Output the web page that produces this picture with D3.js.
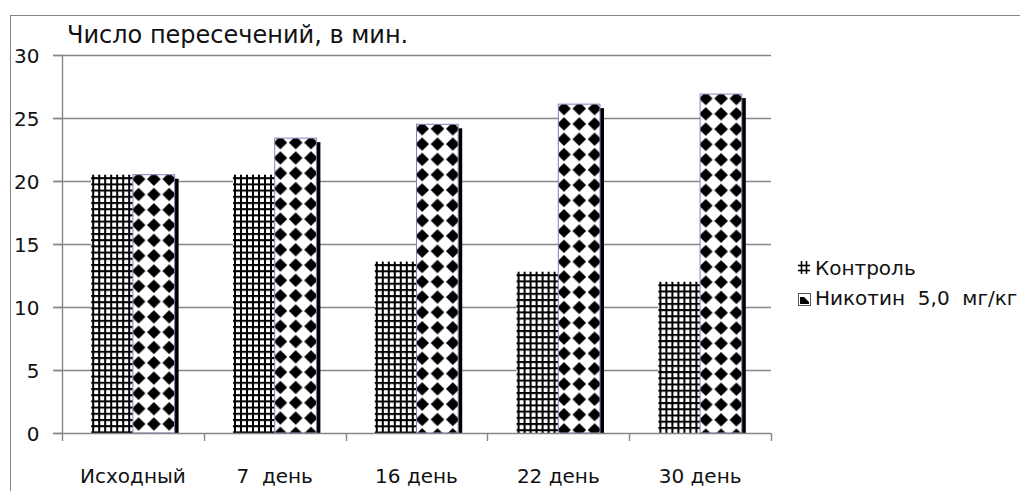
<!DOCTYPE html>
<html>
<head>
<meta charset="utf-8">
<script src="https://cdn.jsdelivr.net/npm/d3@7"></script>
<style>
  html, body { margin: 0; padding: 0; background: #fff; }
  svg { display: block; font-family: "DejaVu Sans", Verdana, sans-serif; }
</style>
</head>
<body>
<svg id="chart" width="1020" height="491"></svg>
<script>
// Values
const categories = ["Исходный", "7  день", "16 день", "22 день", "30 день"];
const seriesNames = ["Контроль", "Никотин  5,0  мг/кг"];
const control = [20.5, 20.5, 13.6, 12.8, 12.0];
const nicotine = [20.5, 23.4, 24.5, 26.1, 26.9];
const yTicks = [0, 5, 10, 15, 20, 25, 30];
const title = "Число пересечений, в мин.";

const svg = d3.select("#chart");
const W = 1020, H = 491;
const plot = { left: 62, right: 771, top: 55, bottom: 433 };
const gray = "#868686";

const y = d3.scaleLinear().domain([0, 30]).range([plot.bottom, plot.top]);
const x = d3.scaleBand().domain(categories).range([plot.left, plot.right]).paddingInner(0).paddingOuter(0);
const xs = d3.scaleBand().domain(["c", "n"]).range([0, x.bandwidth()]).paddingInner(0).paddingOuter(0.7);

const defs = svg.append("defs");

// chart frame
svg.append("rect")
  .attr("x", 10.5).attr("y", 15.5)
  .attr("width", W + 20).attr("height", H + 20)
  .attr("fill", "#fff").attr("stroke", gray).attr("stroke-width", 1);

// gridlines
svg.append("g")
  .selectAll("line")
  .data(yTicks.filter(t => t > 0))
  .join("line")
  .attr("x1", plot.left - 9).attr("x2", plot.right)
  .attr("y1", d => Math.round(y(d)) + 0.5).attr("y2", d => Math.round(y(d)) + 0.5)
  .attr("stroke", gray).attr("stroke-width", 1.4);

// patterns, one per bar so the texture starts at each bar's corner
function gridPattern(id, x0, y0) {
  const p = defs.append("pattern").attr("id", id)
    .attr("patternUnits", "userSpaceOnUse")
    .attr("x", x0 + 1).attr("y", y0 + 2.5)
    .attr("width", 6).attr("height", 6.2);
  p.append("rect").attr("width", 6).attr("height", 6.2).attr("fill", "#fff");
  p.append("rect").attr("x", 0).attr("y", 0).attr("width", 2).attr("height", 6.2).attr("fill", "#000");
  p.append("rect").attr("x", 0).attr("y", 0).attr("width", 6).attr("height", 2).attr("fill", "#000");
}
function diamondPattern(id, x0, y0) {
  const s = 15.3, r = 6.8;
  const p = defs.append("pattern").attr("id", id)
    .attr("patternUnits", "userSpaceOnUse")
    .attr("x", x0 + 5.7 - s / 2).attr("y", y0 + 4.5 - s / 2)
    .attr("width", s).attr("height", s);
  p.append("rect").attr("width", s).attr("height", s).attr("fill", "#fff");
  const c = s / 2;
  p.append("path")
    .attr("d", `M${c},${c - r}L${c + r},${c}L${c},${c + r}L${c - r},${c}Z`)
    .attr("fill", "#000");
}

const bars = svg.append("g");
categories.forEach((cat, i) => {
  const bx = x(cat);
  // control bar
  const cx0 = bx + xs("c"), cy0 = y(control[i]);
  gridPattern("pc" + i, cx0, cy0);
  bars.append("rect")
    .attr("x", cx0).attr("y", cy0)
    .attr("width", xs.bandwidth()).attr("height", y(0) - cy0)
    .attr("fill", `url(#pc${i})`);

  // nicotine bar with drop shadow
  const nx0 = bx + xs("n"), ny0 = y(nicotine[i]);
  diamondPattern("pn" + i, nx0, ny0);
  bars.append("rect")
    .attr("x", nx0 + 4).attr("y", ny0 + 4)
    .attr("width", xs.bandwidth()).attr("height", y(0) - ny0 - 4)
    .attr("fill", "#000");
  bars.append("rect")
    .attr("x", nx0).attr("y", ny0)
    .attr("width", xs.bandwidth()).attr("height", y(0) - ny0)
    .attr("fill", `url(#pn${i})`)
    .attr("stroke", "#8080b8").attr("stroke-width", 1);
});

// y axis
const yAxis = svg.append("g")
  .attr("transform", `translate(${plot.left + 0.5},0)`)
  .call(d3.axisLeft(y).tickValues(yTicks).tickSize(9).tickPadding(14).tickFormat(d3.format("d")));
yAxis.select(".domain").attr("stroke", gray).attr("stroke-width", 1.4)
  .attr("d", `M0,${plot.top}V${plot.bottom}`);
yAxis.selectAll(".tick line").attr("stroke", gray).attr("stroke-width", 1.4);
yAxis.selectAll(".tick text")
  .attr("font-family", "DejaVu Sans, Verdana, sans-serif")
  .attr("font-size", 20).attr("fill", "#111").attr("dy", "0.36em");

// x axis
const xAxis = svg.append("g");
xAxis.append("line")
  .attr("x1", plot.left - 9).attr("x2", plot.right)
  .attr("y1", plot.bottom + 0.5).attr("y2", plot.bottom + 0.5)
  .attr("stroke", gray).attr("stroke-width", 1.4);
const bounds = categories.map(c => x(c)).concat([x(categories[categories.length - 1]) + x.bandwidth()]);
xAxis.selectAll("line.tick")
  .data(bounds)
  .join("line").attr("class", "tick")
  .attr("x1", d => Math.round(d) + 0.5).attr("x2", d => Math.round(d) + 0.5)
  .attr("y1", plot.bottom).attr("y2", plot.bottom + 8)
  .attr("stroke", gray).attr("stroke-width", 1.4);
xAxis.selectAll("text")
  .data(categories)
  .join("text")
  .attr("x", d => x(d) + x.bandwidth() / 2)
  .attr("y", 483)
  .attr("text-anchor", "middle")
  .attr("font-size", 20).attr("fill", "#111")
  .style("white-space", "pre")
  .text(d => d);

// title
svg.append("text")
  .attr("x", 67).attr("y", 43)
  .attr("font-size", 24).attr("fill", "#111")
  .text(title);

// legend
const lg = svg.append("g");
// control marker: small crosshatch
const mx = 798, my1 = 261;
[801.5, 806.5].forEach(vx => lg.append("line")
  .attr("x1", vx).attr("x2", vx).attr("y1", my1).attr("y2", my1 + 13)
  .attr("stroke", "#000").attr("stroke-width", 1.6));
[265.5, 270.5].forEach(hy => lg.append("line")
  .attr("x1", mx).attr("x2", mx + 12).attr("y1", hy).attr("y2", hy)
  .attr("stroke", "#000").attr("stroke-width", 1.6));
// nicotine marker: framed square with a black diamond piece
lg.append("rect").attr("x", 798.5).attr("y", 293.5).attr("width", 12).attr("height", 12)
  .attr("fill", "#fff").attr("stroke", "#555").attr("stroke-width", 1);
lg.append("path").attr("d", "M800,297L804,297L809,302L809,304L800,304Z").attr("fill", "#000");

lg.selectAll("text")
  .data(seriesNames)
  .join("text")
  .attr("x", 815)
  .attr("y", (d, i) => 275 + i * 30)
  .attr("font-size", 20).attr("fill", "#111")
  .style("white-space", "pre")
  .text(d => d);
</script>
</body>
</html>
